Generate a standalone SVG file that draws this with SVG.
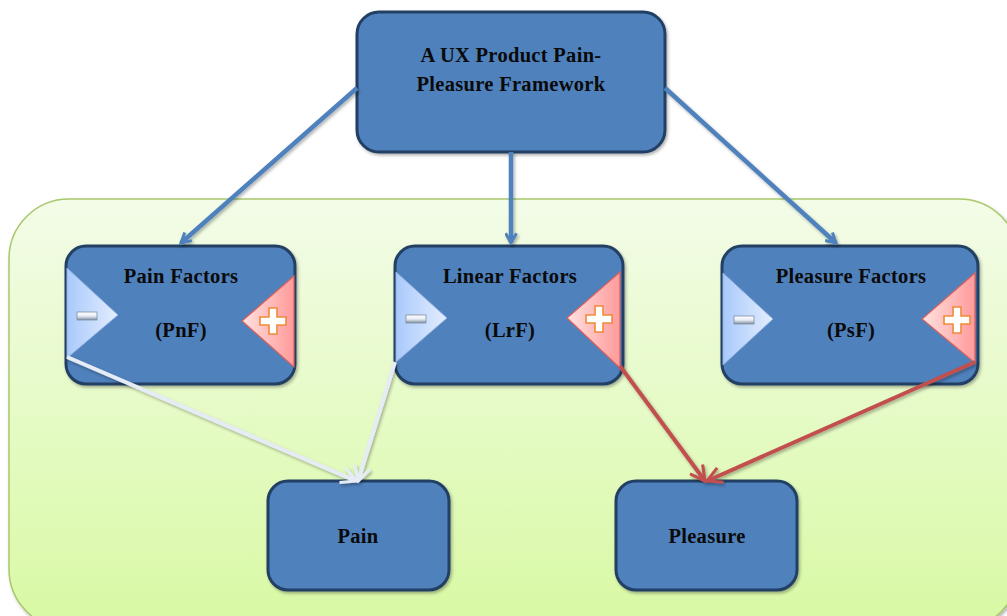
<svg xmlns="http://www.w3.org/2000/svg" width="1007" height="616" viewBox="0 0 1007 616">
  <defs>
    <linearGradient id="areaFill" x1="0" y1="0" x2="0" y2="1">
      <stop offset="0" stop-color="#f3fce8"/>
      <stop offset="1" stop-color="#d8f9a3"/>
    </linearGradient>
    <linearGradient id="minusFill" x1="0" y1="0" x2="1" y2="0">
      <stop offset="0" stop-color="#a9c9fb"/>
      <stop offset="1" stop-color="#e4eeff"/>
    </linearGradient>
    <linearGradient id="plusFill" x1="1" y1="0" x2="0" y2="0">
      <stop offset="0" stop-color="#ff9a9a"/>
      <stop offset="1" stop-color="#ffe2e0"/>
    </linearGradient>
    <linearGradient id="barFill" x1="0" y1="0" x2="0" y2="1">
      <stop offset="0" stop-color="#ffffff"/>
      <stop offset="0.5" stop-color="#e8edf4"/>
      <stop offset="1" stop-color="#7d8ca2"/>
    </linearGradient>
    <filter id="shadow" x="-10%" y="-10%" width="130%" height="130%">
      <feDropShadow dx="1.5" dy="2" stdDeviation="1.5" flood-color="#000" flood-opacity="0.3"/>
    </filter>
    <marker id="headBlue" viewBox="0 0 12 12" refX="10" refY="6" markerWidth="13" markerHeight="13" markerUnits="userSpaceOnUse" orient="auto">
      <path d="M1,1 L10,6 L1,11" fill="none" stroke="#4f81bd" stroke-width="2.8"/>
    </marker>
    <marker id="headGrey" viewBox="0 0 16 16" refX="14" refY="8" markerWidth="18" markerHeight="18" markerUnits="userSpaceOnUse" orient="auto">
      <path d="M1,1 L14,8 L1,15" fill="none" stroke="#e6ecf6" stroke-width="2.8"/>
    </marker>
    <marker id="headRed" viewBox="0 0 16 16" refX="14" refY="8" markerWidth="18" markerHeight="18" markerUnits="userSpaceOnUse" orient="auto">
      <path d="M1,1 L14,8 L1,15" fill="none" stroke="#c0504d" stroke-width="2.8"/>
    </marker>
  </defs>
  <style>
    .box { fill: #4f81bd; stroke: #233f63; stroke-width: 3; filter: url(#shadow); }
    .lbl { font-family: "Liberation Serif", "Times New Roman", serif; font-weight: bold; font-size: 20.5px; letter-spacing: 0.3px; fill: #0a0a0a; text-anchor: middle; }
    .minus { fill: url(#minusFill); stroke: #8fb0e0; stroke-width: 1; }
    .plus { fill: url(#plusFill); stroke: #d9605c; stroke-width: 1.2; }
    .bar { fill: url(#barFill); stroke: #7f8ea4; stroke-width: 0.8; }
    .cross { fill: #ffffff; stroke: #f08a3a; stroke-width: 1.6; }
    .blue { stroke: #4f81bd; stroke-width: 4.5; fill: none; marker-end: url(#headBlue); }
    .grey { stroke: #e6ecf6; stroke-width: 4; fill: none; marker-end: url(#headGrey); }
    .red { stroke: #c0504d; stroke-width: 4; fill: none; marker-end: url(#headRed); }
  </style>

  <rect width="1007" height="616" fill="#ffffff"/>

  <!-- shaded region holding the factor groups and outcomes -->
  <g id="region">
    <rect x="9" y="199" width="1010" height="430" rx="60" ry="60" fill="url(#areaFill)" stroke="#a9c86c" stroke-width="1.5" filter="url(#shadow)"/>
  </g>

  <!-- framework root -->
  <g id="framework">
    <rect class="box" x="357" y="12" width="308" height="140" rx="22" ry="22"/>
    <text class="lbl" x="511" y="62">A UX Product Pain-</text>
    <text class="lbl" x="511" y="91">Pleasure Framework</text>
  </g>

  <!-- Pain Factors -->
  <g id="pain-factors">
    <rect class="box" x="66" y="246" width="229" height="138" rx="20" ry="20"/>
    <path class="minus" d="M67,268 L118,315 L67,358 Z"/>
    <rect class="bar" x="77" y="312" width="20" height="8"/>
    <path class="plus" d="M294,276 L242,321 L294,367 Z"/>
    <path class="cross" d="M269,308 h8 v9 h9 v8 h-9 v9 h-8 v-9 h-9 v-8 h9 Z"/>
    <text class="lbl" x="181" y="283">Pain Factors</text>
    <text class="lbl" x="181" y="337">(PnF)</text>
  </g>

  <!-- Linear Factors -->
  <g id="linear-factors">
    <rect class="box" x="395" y="246" width="228" height="138" rx="20" ry="20"/>
    <path class="minus" d="M396,272 L447,318 L396,362 Z"/>
    <rect class="bar" x="406" y="315" width="20" height="8"/>
    <path class="plus" d="M620,272 L567,318 L620,368 Z"/>
    <path class="cross" d="M595,306 h8 v9 h9 v8 h-9 v9 h-8 v-9 h-9 v-8 h9 Z"/>
    <text class="lbl" x="510" y="283">Linear Factors</text>
    <text class="lbl" x="510" y="337">(LrF)</text>
  </g>

  <!-- Pleasure Factors -->
  <g id="pleasure-factors">
    <rect class="box" x="722" y="246" width="256" height="138" rx="20" ry="20"/>
    <path class="minus" d="M723,273 L773,319 L723,365 Z"/>
    <rect class="bar" x="734" y="316" width="20" height="8"/>
    <path class="plus" d="M975,273 L922,319 L975,363 Z"/>
    <path class="cross" d="M953,307 h8 v9 h9 v8 h-9 v9 h-8 v-9 h-9 v-8 h9 Z"/>
    <text class="lbl" x="851" y="283">Pleasure Factors</text>
    <text class="lbl" x="851" y="337">(PsF)</text>
  </g>

  <!-- outcomes -->
  <g id="pain">
    <rect class="box" x="268" y="481" width="181" height="109" rx="20" ry="20"/>
    <text class="lbl" x="358" y="543">Pain</text>
  </g>
  <g id="pleasure">
    <rect class="box" x="616" y="481" width="181" height="109" rx="20" ry="20"/>
    <text class="lbl" x="707" y="543">Pleasure</text>
  </g>

  <!-- connectors -->
  <g id="connectors" filter="url(#shadow)">
    <line class="blue" x1="357" y1="88" x2="181" y2="243"/>
    <line class="blue" x1="511" y1="152" x2="511" y2="243"/>
    <line class="blue" x1="665" y1="88" x2="836" y2="243"/>
    <line class="grey" x1="67" y1="357" x2="356" y2="481"/>
    <line class="grey" x1="395" y1="362" x2="358" y2="481"/>
    <line class="red" x1="620" y1="366" x2="705" y2="481"/>
    <line class="red" x1="975" y1="362" x2="707" y2="481"/>
  </g>
</svg>
